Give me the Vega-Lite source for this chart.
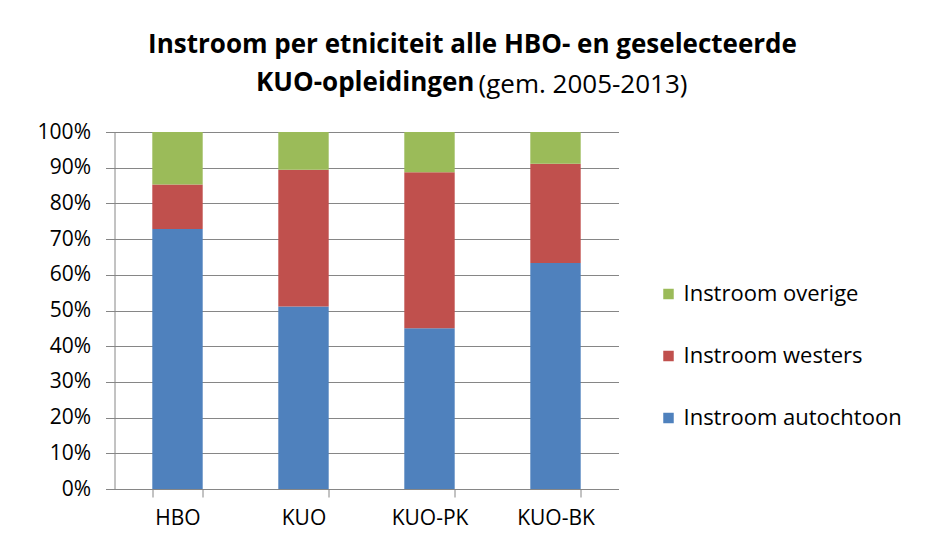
{
  "$schema": "https://vega.github.io/schema/vega-lite/v6.json",
  "width": 504,
  "height": 357,
  "autosize": {"type": "none"},
  "padding": {"left": 114.5, "top": 132, "right": 307.5, "bottom": 57},
  "background": "white",
  "title": {
    "text": ["Instroom per etniciteit alle HBO- en geselecteerde", "KUO-opleidingen\u2003\u2003\u2003\u2003\u2003\u2003\u2003\u2003\u2005\u200b"],
    "subtitle": "\u200b\u2003\u2003\u2003\u2003\u2003\u2003\u2003\u2003\u2002(gem. 2005-2013)",
    "anchor": "middle",
    "frame": "group",
    "dx": 106,
    "offset": 23,
    "font": "Open Sans",
    "fontSize": 26,
    "fontWeight": "bold",
    "lineHeight": 38,
    "color": "#000000",
    "subtitleFont": "Open Sans",
    "subtitleFontSize": 26,
    "subtitleFontWeight": "normal",
    "subtitleColor": "#000000",
    "subtitlePadding": -24
  },
  "data": {
    "values": [
      {"opleiding": "HBO", "serie": "Instroom autochtoon", "nr": 1, "aandeel": 0.728},
      {"opleiding": "HBO", "serie": "Instroom westers", "nr": 2, "aandeel": 0.125},
      {"opleiding": "HBO", "serie": "Instroom overige", "nr": 3, "aandeel": 0.147},
      {"opleiding": "KUO", "serie": "Instroom autochtoon", "nr": 1, "aandeel": 0.511},
      {"opleiding": "KUO", "serie": "Instroom westers", "nr": 2, "aandeel": 0.383},
      {"opleiding": "KUO", "serie": "Instroom overige", "nr": 3, "aandeel": 0.106},
      {"opleiding": "KUO-PK", "serie": "Instroom autochtoon", "nr": 1, "aandeel": 0.450},
      {"opleiding": "KUO-PK", "serie": "Instroom westers", "nr": 2, "aandeel": 0.437},
      {"opleiding": "KUO-PK", "serie": "Instroom overige", "nr": 3, "aandeel": 0.113},
      {"opleiding": "KUO-BK", "serie": "Instroom autochtoon", "nr": 1, "aandeel": 0.633},
      {"opleiding": "KUO-BK", "serie": "Instroom westers", "nr": 2, "aandeel": 0.278},
      {"opleiding": "KUO-BK", "serie": "Instroom overige", "nr": 3, "aandeel": 0.089}
    ]
  },
  "mark": {"type": "bar"},
  "encoding": {
    "x": {
      "field": "opleiding",
      "type": "nominal",
      "sort": ["HBO", "KUO", "KUO-PK", "KUO-BK"],
      "scale": {"paddingInner": 0.6, "paddingOuter": 0.3},
      "axis": {
        "title": null,
        "labelAngle": 0,
        "labelFont": "Open Sans",
        "labelFontSize": 21,
        "labelColor": "#000000",
        "labelPadding": 10,
        "domainColor": "#868686",
        "tickColor": "#868686",
        "tickSize": 8,
        "tickBand": "extent",
        "grid": false
      }
    },
    "y": {
      "field": "aandeel",
      "type": "quantitative",
      "stack": "zero",
      "scale": {"domain": [0, 1], "nice": false},
      "axis": {
        "title": null,
        "values": [0, 0.1, 0.2, 0.3, 0.4, 0.5, 0.6, 0.7, 0.8, 0.9, 1],
        "format": ".0%",
        "labelFont": "Open Sans",
        "labelFontSize": 21,
        "labelColor": "#000000",
        "labelPadding": 15,
        "domainColor": "#868686",
        "tickColor": "#868686",
        "tickSize": 9,
        "grid": true,
        "gridColor": "#868686",
        "gridWidth": 1
      }
    },
    "color": {
      "field": "serie",
      "type": "nominal",
      "sort": ["Instroom overige", "Instroom westers", "Instroom autochtoon"],
      "scale": {
        "domain": ["Instroom overige", "Instroom westers", "Instroom autochtoon"],
        "range": ["#9BBB59", "#C0504D", "#4F81BD"]
      },
      "legend": {
        "title": null,
        "orient": "none",
        "legendX": 543,
        "legendY": 151,
        "symbolType": "square",
        "symbolSize": 110,
        "symbolStrokeWidth": 0,
        "labelFont": "Open Sans",
        "labelFontSize": 22,
        "labelColor": "#000000",
        "labelOffset": 4,
        "labelLimit": 400,
        "rowPadding": 40
      }
    },
    "order": {"field": "nr", "type": "quantitative"}
  },
  "config": {
    "view": {"stroke": null}
  }
}
